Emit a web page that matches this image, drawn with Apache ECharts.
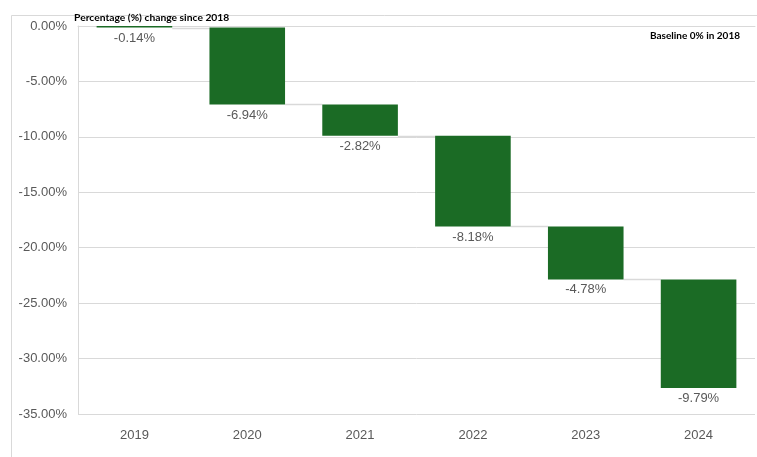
<!DOCTYPE html>
<html>
<head>
<meta charset="utf-8">
<script src="https://cdn.jsdelivr.net/npm/echarts@6/dist/echarts.min.js"></script>
<style>
  html, body { margin: 0; padding: 0; background: #fff; }
  #chart { width: 757px; height: 457px; }
</style>
</head>
<body>
<div id="chart"></div>
<script>
// Year-on-year change (%) relative to the 2018 baseline
const years = ['2019', '2020', '2021', '2022', '2023', '2024'];
const changes = [-0.14, -6.94, -2.82, -8.18, -4.78, -9.79];
const yTicks = { min: -35, max: 0, interval: 5 };

// Running totals: where each step starts and ends
const starts = [];
const ends = [];
let running = 0;
changes.forEach(function (c) {
  starts.push(+running.toFixed(2));
  running += c;
  ends.push(+running.toFixed(2));
});

const barGreen = '#1b6b25';
const textGrey = '#595959';
const lineGrey = '#d9d9d9';
const barFrac = 0.67;

const chart = echarts.init(document.getElementById('chart'), null, { renderer: 'canvas' });

chart.setOption({
  animation: false,
  backgroundColor: '#fff',
  grid: { left: 78, right: 2, top: 26, bottom: 43, containLabel: false },
  graphic: [
    {
      type: 'rect',
      shape: { x: 11.5, y: 15.5, width: 760, height: 460 },
      style: { fill: 'none', stroke: lineGrey, lineWidth: 1 },
      z: -1
    },
    {
      type: 'text',
      left: 74, top: 13,
      style: { text: 'Percentage (%) change since 2018', font: 'bold 10.3px Lato, "Open Sans", sans-serif', fill: '#000' },
      z: 10
    },
    {
      type: 'text',
      left: 650, top: 31,
      style: { text: 'Baseline 0% in 2018', font: 'bold 10px Lato, "Open Sans", sans-serif', fill: '#000' },
      z: 10
    }
  ],
  xAxis: {
    type: 'category',
    data: years,
    axisLine: { show: true, lineStyle: { color: lineGrey } },
    axisTick: { show: false },
    axisLabel: { color: textGrey, fontSize: 13, fontFamily: '"Liberation Sans", Arial, sans-serif', margin: 15 }
  },
  yAxis: {
    type: 'value',
    min: yTicks.min, max: yTicks.max, interval: yTicks.interval,
    axisLine: { show: true, lineStyle: { color: lineGrey } },
    axisTick: { show: false },
    splitLine: { show: true, lineStyle: { color: lineGrey } },
    axisLabel: {
      color: textGrey, fontSize: 13, fontFamily: '"Liberation Sans", Arial, sans-serif', margin: 11,
      formatter: function (v) { return v.toFixed(2) + '%'; }
    }
  },
  series: [
    {
      // invisible base that lifts each step to its starting level
      type: 'bar',
      stack: 'wf',
      barWidth: (barFrac * 100) + '%',
      itemStyle: { color: 'transparent' },
      emphasis: { disabled: true },
      data: starts,
      silent: true
    },
    {
      type: 'bar',
      stack: 'wf',
      barWidth: (barFrac * 100) + '%',
      itemStyle: { color: barGreen },
      data: changes,
      label: {
        show: true,
        position: 'bottom',
        distance: 4,
        color: textGrey,
        fontSize: 13,
        fontFamily: '"Liberation Sans", Arial, sans-serif',
        formatter: function (p) { return p.value.toFixed(2) + '%'; }
      },
      z: 3
    },
    {
      // connector lines between consecutive steps
      type: 'custom',
      silent: true,
      data: ends.slice(0, -1).map(function (v, i) { return [i, v]; }),
      renderItem: function (params, api) {
        const i = api.value(0);
        const v = api.value(1);
        const band = api.size([1, 0])[0];
        const p0 = api.coord([i, v]);
        const p1 = api.coord([i + 1, v]);
        const y = Math.round(p0[1]) + 0.5;
        return {
          type: 'line',
          shape: { x1: p0[0] + band * barFrac / 2, y1: y, x2: p1[0] - band * barFrac / 2, y2: y },
          style: { stroke: lineGrey, lineWidth: 1.5 }
        };
      },
      z: 2
    }
  ]
});
</script>
</body>
</html>
